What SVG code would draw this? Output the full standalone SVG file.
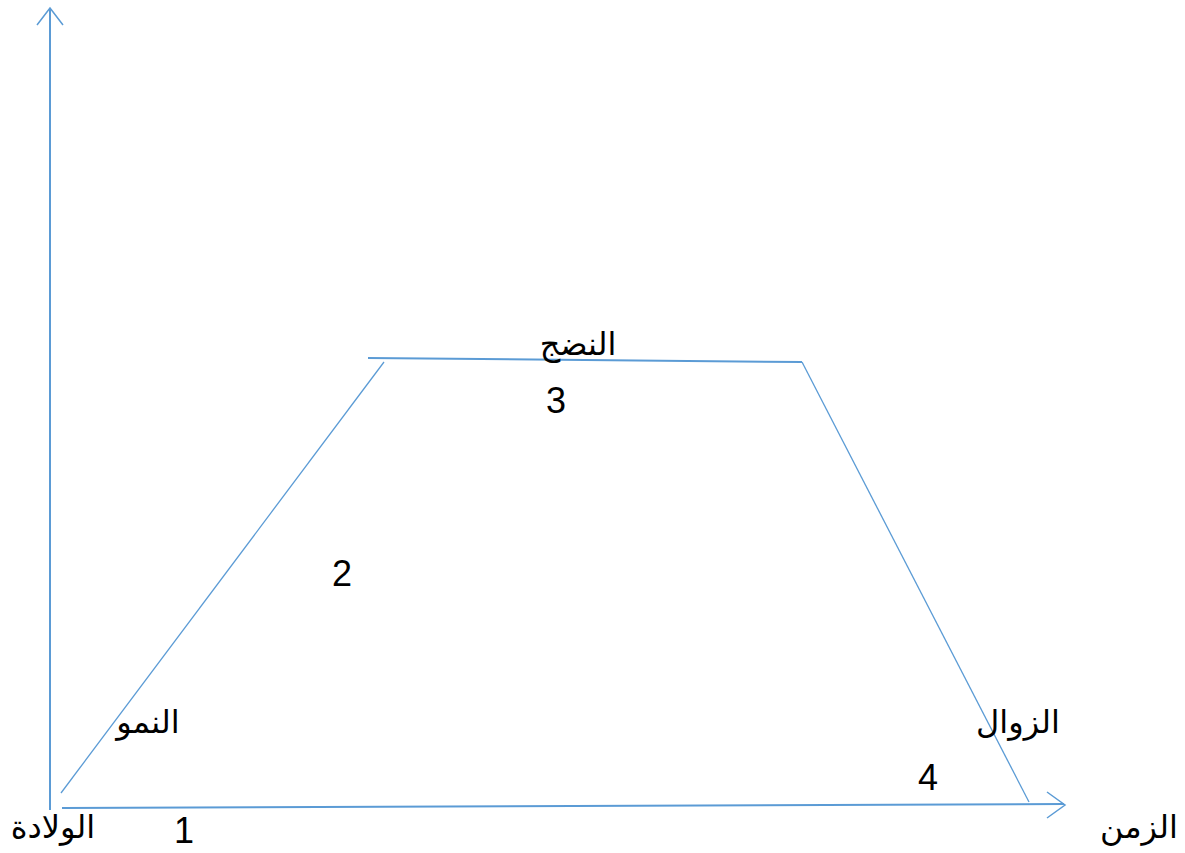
<svg xmlns="http://www.w3.org/2000/svg" width="1185" height="853" viewBox="0 0 1185 853">
<style>
.ax{stroke:#5b9bd5;stroke-width:2;fill:none}
.ln{stroke:#5b9bd5;stroke-width:1.3;fill:none}
.ah{stroke:#5b9bd5;stroke-width:1.5;fill:none}
text{font-family:"Liberation Sans","DejaVu Sans",sans-serif;font-size:32px;fill:#000;text-anchor:middle}
.num{font-size:36px}
</style>
<rect width="1185" height="853" fill="#fff"/>
<g id="connectors">
<line class="ax" x1="50" y1="8" x2="50" y2="810"/>
<polyline class="ah" points="37,25 50,8 63,25"/>
<line class="ax" x1="62" y1="808" x2="1064" y2="804"/>
<polyline class="ah" points="1047,792 1065,805 1047,818"/>
<line class="ln" x1="61" y1="793" x2="384" y2="362"/>
<line class="ax" x1="368" y1="358" x2="802" y2="362"/>
<line class="ln" x1="802" y1="362" x2="1029" y2="802"/>
</g>
<g id="birth"><text x="53" y="838">الولادة</text></g>
<g id="n1"><text class="num" x="184" y="843">1</text></g>
<g id="growth"><text x="148" y="733">النمو</text></g>
<g id="n2"><text class="num" x="342" y="586">2</text></g>
<g id="maturity"><text x="578" y="355">النضج</text></g>
<g id="n3"><text class="num" x="556" y="413">3</text></g>
<g id="decline"><text x="1018" y="733">الزوال</text></g>
<g id="n4"><text class="num" x="928" y="790">4</text></g>
<g id="time"><text x="1139" y="838">الزمن</text></g>
</svg>
